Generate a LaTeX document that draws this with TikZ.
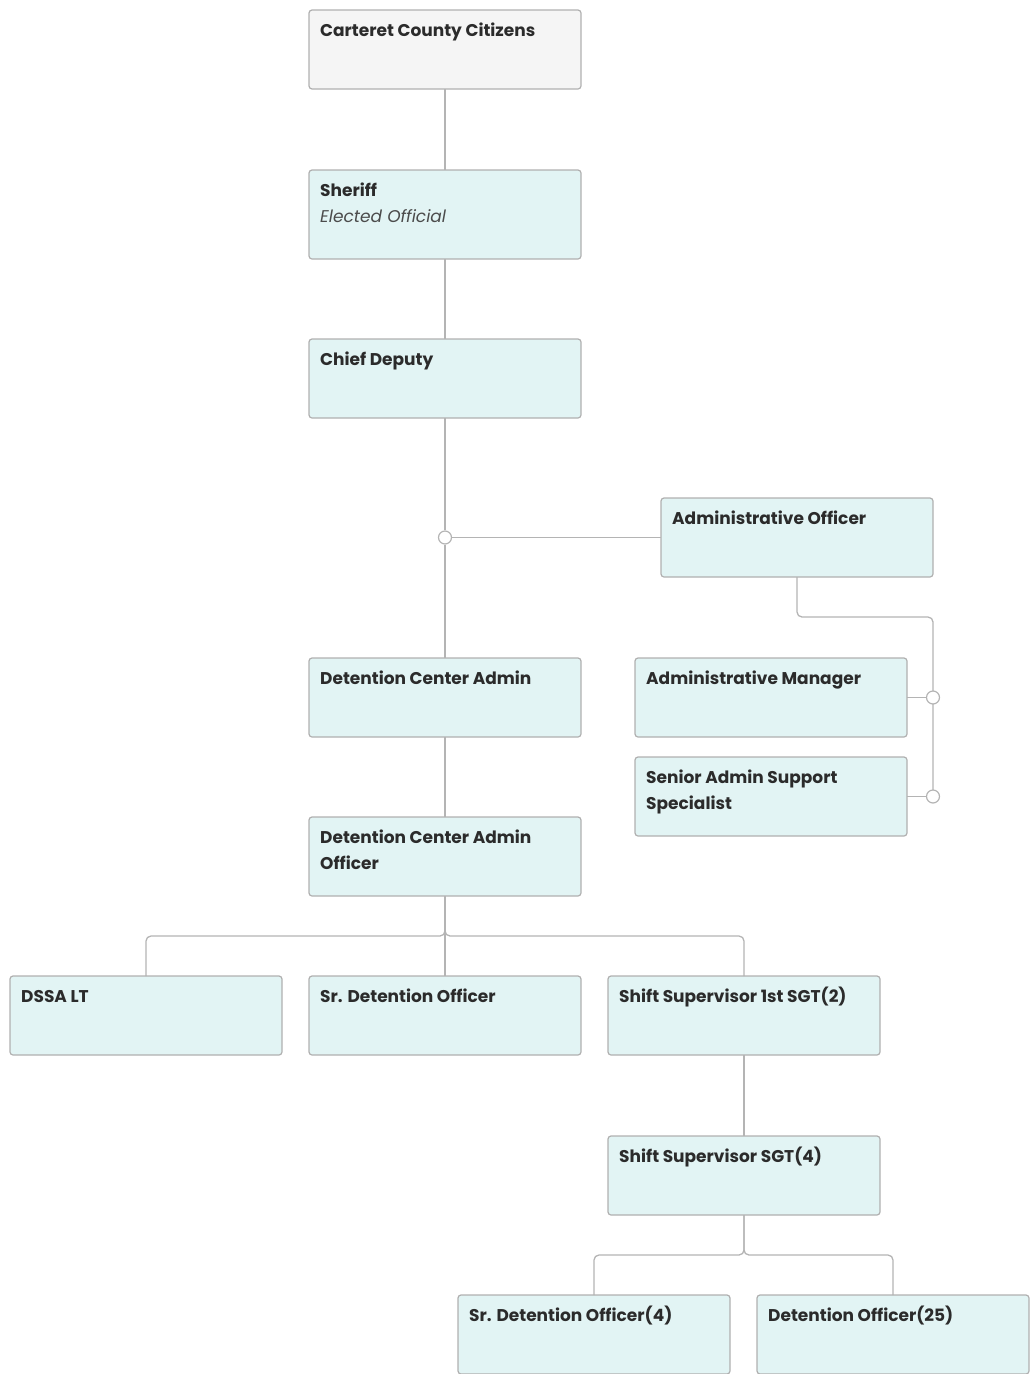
\documentclass[tikz,border=0pt]{standalone}
\usepackage{fontspec}
\setmainfont{Poppins}
\begin{document}
\begin{tikzpicture}[x=1pt,y=-1pt,
  conn/.style={draw=linegray,line width=1.3pt,rounded corners=5pt},
  orgbox/.style={draw=boxgray,line width=1.2pt,rounded corners=3pt,fill=unitfill,
    minimum width=272pt,minimum height=79pt,inner sep=0pt,outer sep=0pt,anchor=north west},
  topbox/.style={orgbox,fill=topfill},
  lbl/.style={anchor=base west,inner sep=0pt,text=ink,
    font=\fontsize{17}{26}\selectfont\bfseries},
  sub/.style={anchor=base west,inner sep=0pt,text=ink!85,
    font=\fontsize{17}{26}\selectfont\itshape},
  joint/.style={circle,draw=linegray,line width=1.2pt,fill=white,minimum size=13pt,inner sep=0pt}]
\definecolor{linegray}{HTML}{B4B4B4}
\definecolor{boxgray}{HTML}{B0B0B0}
\definecolor{unitfill}{HTML}{E2F4F4}
\definecolor{topfill}{HTML}{F5F5F5}
\definecolor{ink}{HTML}{2B2B2B}
\useasboundingbox (0,0) rectangle (1029,1374);

% unit boxes
\node[topbox] (citizens) at (309,10) {};
\node[orgbox,minimum height=89pt] (sheriff) at (309,170) {};
\node[orgbox] (chief) at (309,339) {};
\node[orgbox] (ao) at (661,498) {};
\node[orgbox] (dca) at (309,658) {};
\node[orgbox] (am) at (635,658) {};
\node[orgbox] (sass) at (635,757) {};
\node[orgbox] (dcao) at (309,817) {};
\node[orgbox] (dssa) at (10,976) {};
\node[orgbox] (srdo) at (309,976) {};
\node[orgbox] (ss1) at (608,976) {};
\node[orgbox] (ss4) at (608,1136) {};
\node[orgbox] (srdo4) at (458,1295) {};
\node[orgbox] (do25) at (757,1295) {};

% titles, first baseline 26pt below the box top
\newcommand\boxlabel[2]{\node[lbl] at ([xshift=11pt,yshift=-26pt]#1.north west) {#2};}
\newcommand\twolines[2]{\vtop{\hbox{#1}\hbox{#2}}}
\boxlabel{citizens}{Carteret County Citizens}
\boxlabel{sheriff}{Sheriff}
\node[sub] at ([xshift=11pt,yshift=-52pt]sheriff.north west) {Elected Official};
\boxlabel{chief}{Chief Deputy}
\boxlabel{ao}{Administrative Officer}
\boxlabel{dca}{Detention Center Admin}
\boxlabel{am}{Administrative Manager}
\boxlabel{sass}{\twolines{Senior Admin Support}{Specialist}}
\boxlabel{dcao}{\twolines{Detention Center Admin}{Officer}}
\boxlabel{dssa}{DSSA LT}
\boxlabel{srdo}{Sr. Detention Officer}
\boxlabel{ss1}{Shift Supervisor 1st SGT(2)}
\boxlabel{ss4}{Shift Supervisor SGT(4)}
\boxlabel{srdo4}{Sr. Detention Officer(4)}
\boxlabel{do25}{Detention Officer(25)}

% junction points
\node[joint] (j0) at (445,537.5) {};
\coordinate (bendA) at (797,617);
\coordinate (forkA) at (445,936);
\coordinate (forkB) at (744,1255);
\coordinate (railEnd) at (933,796.5);

% connectors
\draw[conn] (citizens.south) -- (sheriff.north);
\draw[conn] (sheriff.south) -- (chief.north);
\draw[conn] (chief.south) -- (j0.north);
\draw[conn] (j0.south) -- (dca.north);
\draw[conn] (j0.east) -- (ao.west);
\draw[conn] (dca.south) -- (dcao.north);
\draw[conn] (dcao.south) -- (forkA) -| (dssa.north);
\draw[conn] (dcao.south) -- (forkA) -| (ss1.north);
\draw[conn] (dcao.south) -- (srdo.north);
\draw[conn] (ss1.south) -- (ss4.north);
\draw[conn] (ss4.south) -- (forkB) -| (srdo4.north);
\draw[conn] (ss4.south) -- (forkB) -| (do25.north);
\draw[conn] (ao.south) -- (bendA) -| (railEnd);
\node[joint] (j1) at (933,697.5) {};
\node[joint] (j2) at (933,796.5) {};
\draw[conn] (am.east) -- (j1.west);
\draw[conn] (sass.east) -- (j2.west);
\end{tikzpicture}
\end{document}
